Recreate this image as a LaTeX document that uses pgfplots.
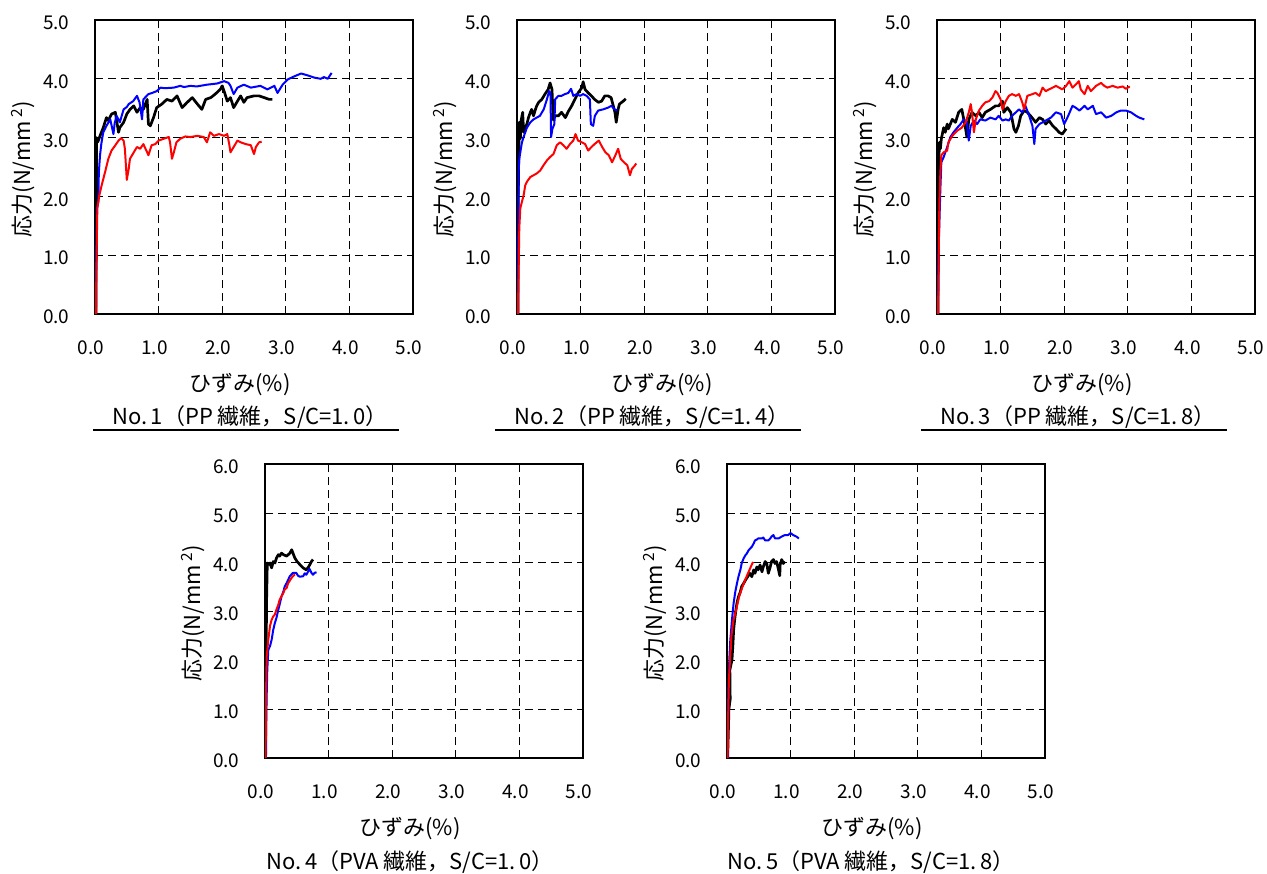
\documentclass[border=0pt]{standalone}
\usepackage{fontspec}
\setmainfont{Noto Sans CJK JP}
\usepackage{pgfplots}
\pgfplotsset{compat=1.18}

\pgfplotsset{
  panel/.style={
    scale only axis, width=318bp, height=294bp,
    xmin=0, xmax=5, xtick={0,1,...,5},
    grid=major,
    major grid style={black, line width=0.75bp, dash pattern=on 8bp off 5bp},
    axis line style={line width=1.8bp},
    major tick length=0pt, tick style={draw=none},
    tick label style={font=\fontsize{19bp}{22bp}\selectfont,
      /pgf/number format/fixed, /pgf/number format/fixed zerofill,
      /pgf/number format/precision=1, /pgf/number format/assume math mode=true},
    xticklabel style={yshift=-23bp, xshift=-4bp},
    yticklabel style={xshift=-22bp, yshift=-3bp},
    label style={font=\fontsize{22bp}{26bp}\selectfont},
    xlabel={ひずみ(\%)},
    xlabel style={at={([xshift=-14bp,yshift=-71bp]axis description cs:0.5,0)}, anchor=center},
    ylabel={応力(N/mm\,\textsuperscript{2})},
    ylabel style={at={([xshift=-72bp,yshift=-2bp]axis description cs:0,0.5)}, anchor=center},
    title style={font=\fontsize{22bp}{26bp}\selectfont, anchor=center},
  },
  blk/.style={black, line width=2.7bp, line join=round},
  blu/.style={blue, line width=2bp, line join=round},
  rd/.style={red, line width=2bp, line join=round},
}

\begin{document}
\begin{tikzpicture}
\useasboundingbox (0,0) rectangle (1267bp,-874bp);

% ---- No.1 ----
\begin{axis}[panel, at={(95bp,-314bp)}, anchor=south west,
  ymin=0, ymax=5, ytick={0,1,...,5},
  title={No.\,1（PP 繊維，S/C=1.\,0）},
  title style={at={([xshift=-4bp,yshift=-109bp]axis description cs:0.5,0)}}]
\addplot[blk] coordinates {
(0.015,0) (0.02,1.5) (0.025,2.5) (0.026,3.0) (0.037,2.92) (0.053,2.95) (0.079,3.03)
(0.13,3.17) (0.18,3.34) (0.21,3.29) (0.26,3.40) (0.32,3.43) (0.34,3.29) (0.37,3.09)
(0.39,3.17) (0.45,3.26) (0.50,3.40) (0.55,3.48) (0.61,3.54) (0.66,3.43) (0.71,3.51)
(0.76,3.48) (0.82,3.65) (0.84,3.23) (0.87,3.20) (0.92,3.34) (0.97,3.51) (1.05,3.57)
(1.13,3.65) (1.21,3.62) (1.29,3.71) (1.37,3.51) (1.45,3.60) (1.53,3.68) (1.61,3.57)
(1.68,3.48) (1.74,3.65) (1.82,3.68) (1.89,3.74) (1.97,3.82) (2.00,3.88) (2.03,3.79)
(2.08,3.62) (2.13,3.68) (2.18,3.51) (2.24,3.62) (2.29,3.71) (2.34,3.60) (2.39,3.68)
(2.50,3.71) (2.58,3.71) (2.66,3.68) (2.74,3.65) (2.79,3.65)
};
\addplot[blu] coordinates {
(0.015,0) (0.02,0.8) (0.026,1.3) (0.03,1.8) (0.053,1.91) (0.06,2.4) (0.079,2.70)
(0.10,2.90) (0.13,3.09) (0.18,3.20) (0.24,3.31) (0.29,3.06) (0.31,3.25) (0.34,3.37)
(0.39,3.26) (0.45,3.48) (0.50,3.52) (0.53,3.57) (0.60,3.62) (0.66,3.71) (0.70,3.60)
(0.74,3.31) (0.76,3.65) (0.84,3.74) (0.90,3.76) (0.97,3.79) (1.03,3.85) (1.10,3.84)
(1.24,3.85) (1.34,3.88) (1.40,3.86) (1.50,3.88) (1.60,3.87) (1.76,3.90) (1.92,3.92)
(2.03,3.96) (2.10,3.93) (2.13,3.88) (2.18,3.74) (2.24,3.85) (2.34,3.90) (2.45,3.85)
(2.60,3.88) (2.71,3.82) (2.82,3.88) (2.87,3.76) (2.95,3.90) (3.03,3.99) (3.13,4.04)
(3.24,4.09) (3.34,4.06) (3.45,4.02) (3.55,4.00) (3.60,4.03) (3.66,4.00) (3.72,4.10)
};
\addplot[rd] coordinates {
(0.016,0) (0.02,0.6) (0.026,1.07) (0.037,1.80) (0.068,2.02) (0.105,2.19) (0.16,2.42)
(0.21,2.64) (0.26,2.78) (0.32,2.87) (0.37,2.95) (0.41,2.99) (0.45,2.95) (0.47,2.81)
(0.50,2.28) (0.53,2.47) (0.55,2.64) (0.61,2.75) (0.66,2.84) (0.71,2.81) (0.76,2.89)
(0.82,2.75) (0.84,2.70) (0.89,2.87) (0.95,2.89) (1.00,2.95) (1.08,2.98) (1.16,3.01)
(1.18,2.92) (1.21,2.64) (1.24,2.75) (1.28,2.92) (1.34,2.98) (1.42,3.02) (1.50,3.01)
(1.61,3.03) (1.71,3.01) (1.76,2.92) (1.81,3.09) (1.87,3.03) (1.95,3.06) (2.03,3.03)
(2.08,3.06) (2.11,2.89) (2.13,2.75) (2.18,2.84) (2.24,2.95) (2.29,2.92) (2.37,2.89)
(2.45,2.87) (2.50,2.72) (2.53,2.84) (2.58,2.92) (2.62,2.93)
};
\end{axis}

% ---- No.2 ----
\begin{axis}[panel, at={(517bp,-314bp)}, anchor=south west,
  ymin=0, ymax=5, ytick={0,1,...,5},
  title={No.\,2（PP 繊維，S/C=1.\,4）},
  title style={at={([xshift=-24bp,yshift=-109bp]axis description cs:0.5,0)}}]
\addplot[blk] coordinates {
(0.016,0) (0.02,2.0) (0.026,2.58) (0.036,3.26) (0.052,2.98) (0.068,3.31) (0.089,3.43)
(0.104,3.09) (0.13,3.17) (0.156,3.23) (0.18,3.34) (0.21,3.43) (0.23,3.48) (0.26,3.37)
(0.29,3.48) (0.31,3.54) (0.34,3.60) (0.39,3.65) (0.44,3.74) (0.49,3.82) (0.52,3.93)
(0.55,3.82) (0.57,3.30) (0.60,3.37) (0.65,3.37) (0.70,3.43) (0.76,3.34) (0.81,3.45)
(0.86,3.54) (0.91,3.65) (0.96,3.76) (1.02,3.85) (1.04,3.95) (1.07,3.82) (1.12,3.76)
(1.17,3.71) (1.22,3.65) (1.28,3.60) (1.33,3.62) (1.38,3.71) (1.43,3.71) (1.48,3.68)
(1.54,3.43) (1.56,3.26) (1.59,3.48) (1.61,3.57) (1.67,3.62) (1.71,3.66)
};
\addplot[blu] coordinates {
(0.016,0) (0.02,1.5) (0.026,2.42) (0.036,2.64) (0.052,2.75) (0.078,2.92) (0.104,3.01)
(0.13,3.09) (0.156,3.17) (0.21,3.26) (0.26,3.31) (0.31,3.34) (0.36,3.37) (0.42,3.48)
(0.47,3.65) (0.505,3.79) (0.526,3.76) (0.536,3.01) (0.557,3.15) (0.588,3.23) (0.60,3.65)
(0.65,3.71) (0.70,3.71) (0.755,3.74) (0.807,3.76) (0.85,3.83) (0.885,3.71) (0.937,3.74)
(0.99,3.71) (1.04,3.74) (1.094,3.71) (1.146,3.65) (1.161,3.23) (1.198,3.20) (1.224,3.37)
(1.276,3.46) (1.354,3.48) (1.432,3.51) (1.484,3.54) (1.536,3.48) (1.578,3.46)
};
\addplot[rd] coordinates {
(0.015,0) (0.02,0.4) (0.026,0.73) (0.036,1.46) (0.052,1.80) (0.078,1.91) (0.104,2.02)
(0.13,2.19) (0.156,2.25) (0.21,2.33) (0.26,2.36) (0.31,2.39) (0.365,2.44) (0.417,2.53)
(0.469,2.61) (0.52,2.67) (0.573,2.72) (0.625,2.87) (0.677,2.92) (0.729,2.87) (0.78,2.81)
(0.833,2.89) (0.885,2.95) (0.92,3.06) (0.96,2.95) (1.02,2.92) (1.07,2.89) (1.12,2.78)
(1.17,2.84) (1.22,2.89) (1.286,2.95) (1.339,2.84) (1.39,2.75) (1.443,2.70) (1.495,2.58)
(1.547,2.70) (1.59,2.81) (1.63,2.64) (1.682,2.58) (1.734,2.53) (1.776,2.36) (1.807,2.47)
(1.849,2.52) (1.875,2.56)
};
\end{axis}

% ---- No.3 ----
\begin{axis}[panel, at={(937bp,-314bp)}, anchor=south west,
  ymin=0, ymax=5, ytick={0,1,...,5},
  title={No.\,3（PP 繊維，S/C=1.\,8）},
  title style={at={([xshift=-18bp,yshift=-109bp]axis description cs:0.5,0)}}]
\addplot[blk] coordinates {
(0.016,0) (0.02,1.5) (0.026,2.64) (0.03,2.58) (0.037,2.92) (0.053,2.81) (0.068,2.98)
(0.105,3.17) (0.13,3.09) (0.16,3.23) (0.18,3.15) (0.24,3.31) (0.29,3.26) (0.34,3.43)
(0.39,3.48) (0.45,3.15) (0.47,3.01) (0.50,3.31) (0.55,3.43) (0.61,3.37) (0.66,3.43)
(0.71,3.34) (0.76,3.43) (0.84,3.48) (0.92,3.54) (0.97,3.54) (1.03,3.62) (1.05,3.43)
(1.105,3.51) (1.16,3.43) (1.21,3.15) (1.24,3.09) (1.28,3.20) (1.316,3.37) (1.37,3.46)
(1.42,3.43) (1.47,3.37) (1.53,3.29) (1.55,3.26) (1.61,3.34) (1.66,3.31) (1.71,3.23)
(1.76,3.29) (1.82,3.20) (1.87,3.15) (1.92,3.09) (1.97,3.06) (2.03,3.15)
};
\addplot[blu] coordinates {
(0.016,0) (0.026,1.12) (0.053,2.13) (0.068,2.58) (0.105,2.67) (0.16,2.84) (0.21,3.01)
(0.26,3.09) (0.32,3.17) (0.37,3.23) (0.42,3.31) (0.47,3.26) (0.50,2.95) (0.53,3.20)
(0.58,3.29) (0.63,3.23) (0.68,3.31) (0.76,3.29) (0.84,3.34) (0.92,3.31) (0.97,3.37)
(1.03,3.29) (1.08,3.31) (1.13,3.29) (1.18,3.37) (1.24,3.43) (1.29,3.48) (1.34,3.43)
(1.39,3.54) (1.45,3.37) (1.50,3.20) (1.53,2.89) (1.55,3.15) (1.61,3.23) (1.66,3.26)
(1.71,3.29) (1.79,3.34) (1.87,3.43) (1.95,3.40) (2.00,3.23) (2.05,3.34) (2.13,3.54)
(2.18,3.51) (2.24,3.46) (2.32,3.54) (2.37,3.48) (2.45,3.54) (2.50,3.40) (2.58,3.43)
(2.66,3.34) (2.74,3.37) (2.82,3.43) (2.89,3.46) (2.97,3.46) (3.05,3.43) (3.13,3.37)
(3.18,3.34) (3.26,3.31)
};
\addplot[rd] coordinates {
(0.016,0) (0.026,0.90) (0.037,1.91) (0.053,2.42) (0.068,2.70) (0.105,2.75) (0.16,2.78)
(0.18,2.92) (0.24,3.03) (0.32,3.12) (0.39,3.17) (0.45,3.26) (0.50,3.43) (0.53,3.57)
(0.55,3.43) (0.58,3.09) (0.61,3.31) (0.66,3.46) (0.71,3.54) (0.76,3.60) (0.82,3.62)
(0.87,3.68) (0.92,3.79) (0.95,3.76) (1.00,3.65) (1.03,3.48) (1.08,3.62) (1.13,3.71)
(1.18,3.74) (1.24,3.71) (1.29,3.74) (1.34,3.60) (1.37,3.48) (1.42,3.71) (1.50,3.74)
(1.55,3.76) (1.61,3.71) (1.66,3.85) (1.71,3.79) (1.76,3.82) (1.82,3.85) (1.87,3.88)
(1.92,3.85) (1.97,3.82) (2.03,3.88) (2.08,3.96) (2.13,3.85) (2.18,3.90) (2.23,3.96)
(2.26,3.82) (2.32,3.74) (2.37,3.88) (2.42,3.79) (2.50,3.88) (2.58,3.93) (2.63,3.88)
(2.68,3.85) (2.76,3.88) (2.84,3.85) (2.92,3.87) (2.97,3.83) (3.03,3.87)
};
\end{axis}

% ---- No.4 ----
\begin{axis}[panel, at={(265bp,-758bp)}, anchor=south west,
  ymin=0, ymax=6, ytick={0,1,...,6},
  title={No.\,4（PVA 繊維，S/C=1.\,0）},
  title style={at={([xshift=-14bp,yshift=-110bp]axis description cs:0.5,0)}}]
\addplot[blk] coordinates {
(0.01,0) (0.016,1.94) (0.026,3.30) (0.036,3.98) (0.052,3.95) (0.078,3.98) (0.104,3.88)
(0.13,4.01) (0.156,3.98) (0.18,4.08) (0.21,4.15) (0.23,4.12) (0.26,4.18) (0.29,4.15)
(0.34,4.12) (0.39,4.18) (0.42,4.25) (0.44,4.18) (0.47,4.08) (0.505,4.01) (0.547,3.95)
(0.60,3.88) (0.65,3.84) (0.69,3.91) (0.73,4.01) (0.755,4.05)
};
\addplot[blu] coordinates {
(0.01,0) (0.026,1.26) (0.036,1.80) (0.052,2.21) (0.078,2.28) (0.104,2.41) (0.13,2.62)
(0.156,2.76) (0.18,2.86) (0.21,3.03) (0.23,3.13) (0.26,3.30) (0.29,3.40) (0.31,3.50)
(0.34,3.57) (0.39,3.71) (0.44,3.78) (0.49,3.78) (0.52,3.72) (0.547,3.70) (0.60,3.71)
(0.625,3.77) (0.65,3.74) (0.68,3.81) (0.70,3.86) (0.73,3.78) (0.755,3.74) (0.78,3.78)
(0.81,3.79)
};
\addplot[rd] coordinates {
(0.01,0) (0.016,1.26) (0.026,2.07) (0.052,2.41) (0.078,2.69) (0.104,2.82) (0.13,2.89)
(0.156,2.93) (0.18,3.03) (0.21,3.13) (0.23,3.23) (0.26,3.30) (0.29,3.37) (0.31,3.44)
(0.34,3.47) (0.365,3.57) (0.39,3.62) (0.42,3.68) (0.44,3.71) (0.47,3.75)
};
\end{axis}

% ---- No.5 ----
\begin{axis}[panel, at={(727bp,-758bp)}, anchor=south west,
  ymin=0, ymax=6, ytick={0,1,...,6},
  title={No.\,5（PVA 繊維，S/C=1.\,8）},
  title style={at={([xshift=-15bp,yshift=-110bp]axis description cs:0.5,0)}}]
\addplot[blk] coordinates {
(0.01,0) (0.026,0.78) (0.03,1.0) (0.05,1.2) (0.045,1.8) (0.078,2.0) (0.094,2.34)
(0.104,2.61) (0.12,2.82) (0.14,3.02) (0.156,3.16) (0.18,3.29) (0.21,3.39) (0.23,3.50)
(0.26,3.56) (0.29,3.63) (0.31,3.67) (0.34,3.73) (0.36,3.77) (0.39,3.70) (0.42,3.84)
(0.44,3.77) (0.47,3.90) (0.49,3.84) (0.52,3.94) (0.55,3.80) (0.57,3.90) (0.60,4.01)
(0.625,3.97) (0.65,3.77) (0.68,3.90) (0.70,4.01) (0.73,4.05) (0.755,3.97) (0.78,4.01)
(0.81,3.84) (0.83,3.72) (0.835,3.94) (0.86,4.05) (0.885,3.97) (0.91,4.01)
};
\addplot[blu] coordinates {
(0.01,0) (0.026,1.46) (0.036,2.0) (0.052,2.41) (0.078,2.82) (0.104,3.16) (0.13,3.39)
(0.156,3.56) (0.18,3.70) (0.21,3.84) (0.23,3.97) (0.26,4.07) (0.29,4.14) (0.31,4.17)
(0.34,4.24) (0.36,4.27) (0.39,4.31) (0.42,4.38) (0.44,4.44) (0.47,4.46) (0.49,4.48)
(0.55,4.48) (0.57,4.50) (0.60,4.44) (0.65,4.44) (0.68,4.48) (0.70,4.52) (0.73,4.55)
(0.755,4.48) (0.81,4.48) (0.86,4.52) (0.91,4.55) (0.96,4.55) (1.00,4.59) (1.04,4.55)
(1.09,4.52) (1.13,4.48)
};
\addplot[rd] coordinates {
(0.01,0) (0.02,1.0) (0.03,1.6) (0.047,2.0) (0.07,2.5) (0.10,2.8) (0.14,3.0)
(0.19,3.3) (0.245,3.5) (0.29,3.65) (0.34,3.8) (0.38,3.92) (0.41,4.0)
};
\end{axis}

% underlines of the upper titles
\draw[line width=2bp] (93bp,-430bp) -- (399bp,-430bp);
\draw[line width=2bp] (495bp,-430bp) -- (801bp,-430bp);
\draw[line width=2bp] (921bp,-430bp) -- (1227bp,-430bp);
\end{tikzpicture}
\end{document}
